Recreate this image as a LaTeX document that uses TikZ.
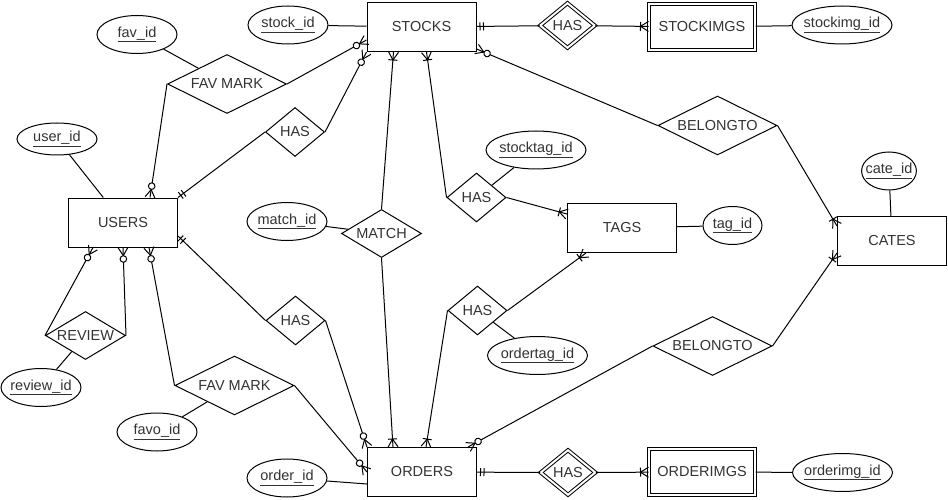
\documentclass[tikz,border=0pt]{standalone}
\usepackage{fontspec}
\setmainfont{Liberation Sans}
\usepackage{tikz}
\usetikzlibrary{shapes.geometric, arrows.meta}

% crow's foot ends
\pgfdeclarearrow{
  name = mone,
  setup code = {
    \pgfarrowssettipend{0pt}
    \pgfarrowssetlineend{0pt}
    \pgfarrowssetbackend{-8pt}
    \pgfarrowshullpoint{0pt}{4pt}
    \pgfarrowshullpoint{-8pt}{-4pt}
  },
  drawing code = {
    \pgfpathmoveto{\pgfqpoint{-3.5pt}{-4pt}}
    \pgfpathlineto{\pgfqpoint{-3.5pt}{4pt}}
    \pgfpathmoveto{\pgfqpoint{-7pt}{-4pt}}
    \pgfpathlineto{\pgfqpoint{-7pt}{4pt}}
    \pgfusepathqstroke
  }
}
\pgfdeclarearrow{
  name = omany,
  setup code = {
    \pgfarrowssettipend{0pt}
    \pgfarrowssetlineend{0pt}
    \pgfarrowssetbackend{-9pt}
    \pgfarrowshullpoint{0pt}{5pt}
    \pgfarrowshullpoint{-9pt}{-5pt}
  },
  drawing code = {
    \pgfpathmoveto{\pgfqpoint{0pt}{5pt}}
    \pgfpathlineto{\pgfqpoint{-8pt}{0pt}}
    \pgfpathlineto{\pgfqpoint{0pt}{-5pt}}
    \pgfpathmoveto{\pgfqpoint{-8pt}{-4.5pt}}
    \pgfpathlineto{\pgfqpoint{-8pt}{4.5pt}}
    \pgfusepathqstroke
  }
}
\pgfdeclarearrow{
  name = zmany,
  setup code = {
    \pgfarrowssettipend{0pt}
    \pgfarrowssetlineend{0pt}
    \pgfarrowssetbackend{-16pt}
    \pgfarrowshullpoint{0pt}{5pt}
    \pgfarrowshullpoint{-16pt}{-5pt}
  },
  drawing code = {
    \pgfpathmoveto{\pgfqpoint{0pt}{5pt}}
    \pgfpathlineto{\pgfqpoint{-8pt}{0pt}}
    \pgfpathlineto{\pgfqpoint{0pt}{-5pt}}
    \pgfusepathqstroke
    \pgfsetfillcolor{white}
    \pgfpathcircle{\pgfqpoint{-11.5pt}{0pt}}{3.3pt}
    \pgfusepathqfillstroke
  }
}

\tikzstyle{entity} = [rectangle, minimum width=109pt, minimum height=49pt, text centered,
draw=black, line width=1pt]
\tikzstyle{weakentity} = [rectangle, minimum width=106pt, minimum height=46pt, text centered,
draw=black, line width=1pt, double, double distance=2pt]
\tikzstyle{rel} = [diamond, minimum width=59pt, minimum height=49pt, inner sep=0pt,
aspect=1.2, draw=black, line width=1pt]
\tikzstyle{midrel} = [diamond, minimum width=80pt, minimum height=48pt, inner sep=0pt,
aspect=1.65, draw=black, line width=1pt]
\tikzstyle{bigrel} = [diamond, minimum width=119pt, minimum height=59pt, inner sep=0pt,
aspect=2, draw=black, line width=1pt]
\tikzstyle{weakrel} = [diamond, minimum width=55pt, minimum height=45pt, inner sep=0pt,
aspect=1.2, draw=black, line width=1pt, double, double distance=2pt]
\tikzstyle{attr} = [ellipse, minimum width=80pt, minimum height=38pt, inner xsep=-4pt,
inner ysep=0pt, draw=black, line width=1pt]
\tikzstyle{line} = [line width=1pt]

\begin{document}
\begin{tikzpicture}[x=1pt, y=1pt, every node/.style={font=\fontsize{14.5}{17}\selectfont, text=black!80}]

    \path[use as bounding box, fill=white] (0,0) rectangle (948,499);

    \node (stocks) [entity] at (421.5,472) {STOCKS};
    \node (users) [entity] at (123,276.5) {USERS};
    \node (orders) [entity] at (422,27) {ORDERS};
    \node (tags) [entity] at (622,271) {TAGS};
    \node (cates) [entity] at (892,258) {CATES};
    \node (stockimgs) [weakentity] at (702,472) {STOCKIMGS};
    \node (orderimgs) [weakentity] at (702,27) {ORDERIMGS};

    \node (hasimg) [weakrel] at (567.5,473.5) {HAS};
    \node (hasoimg) [weakrel] at (568,26.5) {HAS};
    \node (favmark) [bigrel] at (227,415) {FAV MARK};
    \node (hasus) [rel] at (295,367) {HAS};
    \node (match) [midrel] at (381.5,265.5) {MATCH};
    \node (hasst) [rel] at (476.5,301.5) {HAS};
    \node (belst) [bigrel] at (717.5,373.5) {BELONGTO};
    \node (hasuo) [rel] at (295.5,178.5) {HAS};
    \node (review) [midrel] at (85.5,163.5) {REVIEW};
    \node (favmarko) [bigrel] at (234.5,113.5) {FAV MARK};
    \node (hasot) [rel] at (477.5,188.5) {HAS};
    \node (belor) [bigrel] at (712.5,153) {BELONGTO};

    \node (stockid) [attr] at (288,474) {\underline{stock\_id}};
    \node (stockimgid) [attr, minimum width=100pt] at (842,474) {\underline{stockimg\_id}};
    \node (favid) [attr] at (137,464.5) {\underline{fav\_id}};
    \node (userid) [attr, minimum height=32pt] at (57,360) {\underline{user\_id}};
    \node (matchid) [attr] at (287,277.5) {\underline{match\_id}};
    \node (stocktagid) [attr, minimum width=100pt] at (536,349) {\underline{stocktag\_id}};
    \node (tagid) [attr, minimum width=59pt] at (732.5,273.5) {\underline{tag\_id}};
    \node (cateid) [attr, minimum width=51pt] at (889,328) {\underline{cate\_id}};
    \node (reviewid) [attr] at (41,111.5) {\underline{review\_id}};
    \node (favoid) [attr] at (157,67) {\underline{favo\_id}};
    \node (orderid) [attr] at (287,21) {\underline{order\_id}};
    \node (ordertagid) [attr, minimum width=100pt] at (537.5,143.5) {\underline{ordertag\_id}};
    \node (orderimgid) [attr, minimum width=100pt] at (842.5,26.5) {\underline{orderimg\_id}};

    \draw[line] (stockid) -- (stocks);
    \draw[line, {mone}-] (stocks) -- (hasimg);
    \draw[line, -{omany}] (hasimg) -- (stockimgs);
    \draw[line] (stockimgs) -- (stockimgid);
    \draw[line] (favid) -- (favmark);
    \draw[line, -{zmany}] (favmark.east) -- ([yshift=-13pt]stocks.west);
    \draw[line, -{zmany}] (favmark.west) -- ([xshift=27pt]users.north);
    \draw[line, -{zmany}] (hasus.east) -- (stocks.south west);
    \draw[line, -{mone}] (hasus.west) -- (users.north east);
    \draw[line] (userid) -- (users);
    \draw[line, {omany}-] ([xshift=-28pt]stocks.south) -- (match.north);
    \draw[line, -{omany}] (match.south) -- ([xshift=-29pt]orders.north);
    \draw[line] (matchid) -- (match);
    \draw[line, {omany}-] ([xshift=5pt]stocks.south) -- (hasst.west);
    \draw[line, -{omany}] (hasst.east) -- ([yshift=14pt]tags.west);
    \draw[line] (stocktagid) -- (hasst);
    \draw[line] (tagid) -- (tags);
    \draw[line, {zmany}-] ([yshift=3pt]stocks.south east) -- (belst.west);
    \draw[line, -{omany}] (belst.east) -- ([yshift=15pt]cates.west);
    \draw[line] (cateid) -- (cates);
    \draw[line, {mone}-] ([yshift=-13.5pt]users.east) -- (hasuo.west);
    \draw[line, -{zmany}] (hasuo.east) -- (orders.north west);
    \draw[line, {omany}-] ([xshift=4pt]orders.north) -- (hasot.west);
    \draw[line, -{omany}] (hasot.east) -- ([xshift=-36pt]tags.south);
    \draw[line] (ordertagid) -- (hasot);
    \draw[line, {zmany}-] ([xshift=-9pt]orders.north east) -- (belor.west);
    \draw[line, -{omany}] (belor.east) -- ([yshift=-12pt]cates.west);
    \draw[line, {zmany}-] ([xshift=26pt]users.south) -- (favmarko.west);
    \draw[line, -{zmany}] (favmarko.east) -- (orders.west);
    \draw[line] (favoid) -- (favmarko);
    \draw[line, -{zmany}] (review.west) -- ([xshift=-30pt]users.south);
    \draw[line, -{zmany}] (review.east) -- (users.south);
    \draw[line] (reviewid) -- (review);
    \draw[line] (orderid) -- ([yshift=-12pt]orders.west);
    \draw[line, {mone}-] (orders) -- (hasoimg);
    \draw[line, -{omany}] (hasoimg) -- (orderimgs);
    \draw[line] (orderimgs) -- (orderimgid);

    \end{tikzpicture}
\end{document}
